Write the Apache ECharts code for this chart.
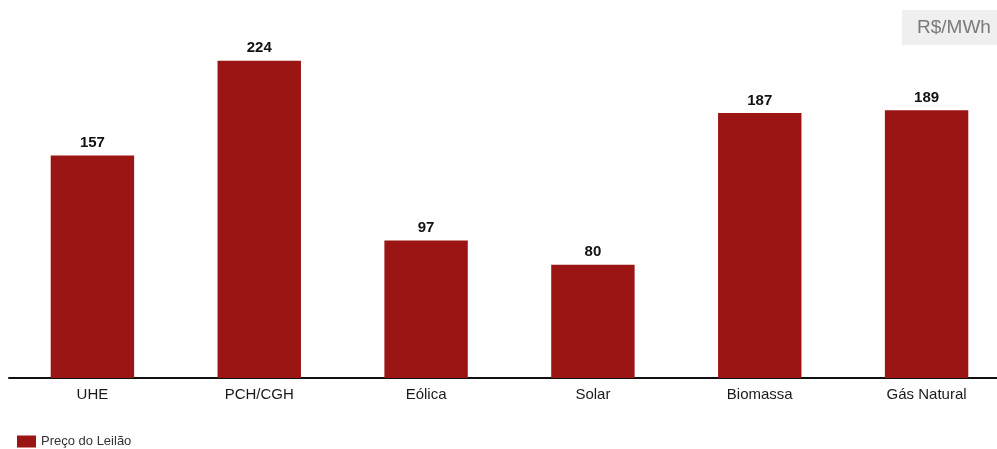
<!DOCTYPE html>
<html>
<head>
<meta charset="utf-8">
<script src="https://cdn.jsdelivr.net/npm/echarts@6/dist/echarts.min.js"></script>
<style>
  html, body { margin: 0; padding: 0; background: #fff; }
  #main { width: 997px; height: 449px; }
</style>
</head>
<body>
<div id="main"></div>
<script>
// categorias e valores (R$/MWh)
var categorias = ["UHE", "PCH/CGH", "Eólica", "Solar", "Biomassa", "Gás Natural"]
var precoLeilao = [157, 224, 97, 80, 187, 189]

var myChart = echarts.init(document.getElementById("main"))
var option = {
  animation: false,
  // a grade passa um pouco da borda direita, como no original
  grid: { left: 9, width: 1001, top: 38, bottom: 71, outerBoundsMode: "none", containLabel: false },
  legend: {
    data: ["Preço do Leilão"],
    icon: "rect",
    left: 17, top: 435, padding: 0,
    itemWidth: 19, itemHeight: 12, itemGap: 6,
    textStyle: { fontSize: 13, color: "#333", fontFamily: "Liberation Sans", padding: [0, 0, 0, 0] }
  },
  graphic: [{
    type: "group", left: 902, top: 10,
    children: [
      { type: "rect", shape: { x: 0, y: 0, width: 100, height: 35 }, style: { fill: "#efefef" } },
      { type: "text", x: 15, y: 8, style: { text: "R$/MWh", fill: "#7a7a7a", font: "19px 'Liberation Sans'" } }
    ]
  }],
  xAxis: {
    type: "category",
    data: categorias,
    axisLine: { lineStyle: { color: "#111", width: 2 } },
    axisTick: { show: false },
    axisLabel: { color: "#1a1a1a", fontSize: 15, margin: 9, fontFamily: "Liberation Sans" }
  },
  yAxis: {
    type: "value", min: 0, max: 240,
    show: false,
    splitLine: { show: false }
  },
  series: [{
    name: "Preço do Leilão",
    type: "bar",
    barWidth: "50%",
    data: precoLeilao,
    itemStyle: { color: "#9c1515" },
    label: {
      show: true, position: "top", distance: 5,
      color: "#111", fontSize: 15, fontWeight: "bold", fontFamily: "Liberation Sans"
    }
  }]
}
myChart.setOption(option)
</script>
</body>
</html>
